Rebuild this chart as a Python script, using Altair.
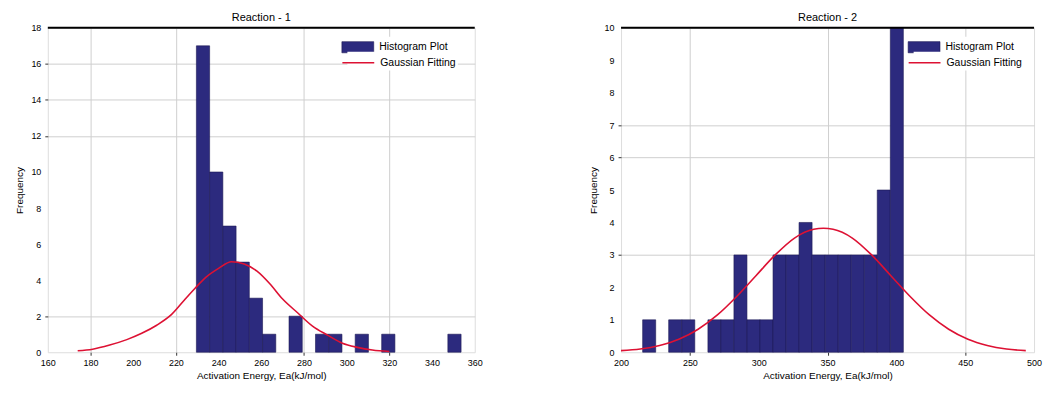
import altair as alt
import pandas as pd

# ---------------- Reaction 1 ----------------
r1_bin_left = [229.6, 235.8, 242.0, 248.2, 254.4, 260.6, 266.8, 273.0, 279.2, 285.4,
               291.6, 297.8, 304.0, 310.2, 316.4, 322.6, 328.8, 335.0, 341.2, 347.4]
r1_bin_width = 6.2
r1_counts = [17, 10, 7, 5, 3, 1, 0, 2, 0, 1, 1, 0, 1, 0, 1, 0, 0, 0, 0, 1]
r1_fit_x = [174, 181, 189, 197, 204, 211, 218, 224, 229, 234, 240, 246, 252, 258,
            264, 270, 277, 284, 291, 298, 305, 312, 320]
r1_fit_y = [0.08, 0.17, 0.40, 0.70, 1.05, 1.50, 2.10, 2.90, 3.55, 4.15, 4.65, 5.02,
            4.90, 4.50, 3.80, 2.95, 2.19, 1.45, 0.95, 0.50, 0.27, 0.12, 0.04]
r1_x_ticks = [160, 180, 200, 220, 240, 260, 280, 300, 320, 340, 360]
r1_y_ticks = [0, 2, 4, 6, 8, 10, 12, 14, 16, 18]
r1_x_grid = [180, 220, 280, 320]
r1_y_grid = [2, 12, 14, 16]

# ---------------- Reaction 2 ----------------
r2_bin_left = [215.7, 225.2, 234.6, 244.1, 253.6, 263.1, 272.5, 282.0, 291.5, 300.9,
               310.4, 319.9, 329.3, 338.8, 348.3, 357.7, 367.2, 376.7, 386.1, 395.6]
r2_bin_width = 9.47
r2_counts = [1, 0, 1, 1, 0, 1, 1, 3, 1, 1, 3, 3, 4, 3, 3, 3, 3, 3, 5, 10]
r2_fit_x = [200, 214, 228, 242, 256, 270, 284, 298, 312, 326, 340, 347, 354, 368,
            382, 396, 410, 424, 438, 452, 466, 480, 494]
r2_fit_y = [0.05, 0.10, 0.21, 0.40, 0.71, 1.15, 1.72, 2.36, 3.00, 3.52, 3.79, 3.82,
            3.79, 3.52, 3.00, 2.36, 1.72, 1.15, 0.71, 0.40, 0.21, 0.10, 0.05]
r2_x_ticks = [200, 250, 300, 350, 400, 450, 500]
r2_y_ticks = [0, 1, 2, 3, 4, 5, 6, 7, 8, 9, 10]
r2_x_grid = [250, 350, 450]
r2_y_grid = [3, 6, 7]

series = ["Histogram Plot", "Gaussian Fitting"]
BAR = "#2c2a7e"
EDGE = "#1c1a55"
RED = "#dd1133"
FONT = "Liberation Sans"


def cond(values, on, off):
    test = "indexof([" + ",".join(str(v) for v in values) + "], datum.value) >= 0"
    return {"condition": {"test": test, "value": on}, "value": off}


def panel(title, bin_left, bin_w, counts, fx, fy, xt, yt, xg, yg, w, h, leg_dx):
    bars = pd.DataFrame({"lo": bin_left,
                         "hi": [b + bin_w for b in bin_left],
                         "n": counts})
    bars = bars[bars["n"] > 0].copy()
    bars["base"] = 0
    bars["series"] = series[0]
    fit = pd.DataFrame({"x": fx, "y": fy})
    fit["series"] = series[1]

    xscale = alt.Scale(domain=[xt[0], xt[-1]], nice=False, zero=False, padding=0)
    yscale = alt.Scale(domain=[yt[0], yt[-1]], nice=False, padding=0)
    common = dict(domain=False, gridColor="#cfcfcf", tickColor="#333", tickSize=3,
                  labelFontSize=9, titleFontSize=10, labelFont=FONT, titleFont=FONT,
                  titleFontWeight="normal", labelColor="black", titleColor="black",
                  format="d", labelOverlap=False, labelFlush=False)
    xaxis = alt.Axis(title="Activation Energy, Ea(kJ/mol)", values=xt,
                     gridOpacity=cond(xg, 1, 0), tickOpacity=cond(xg, 1, 0),
                     labelPadding=3, titlePadding=3, **common)
    yaxis = alt.Axis(title="Frequency", values=yt,
                     gridOpacity=cond(yg, 1, 0), tickOpacity=cond(yg, 1, 0),
                     labelPadding=4, titlePadding=6, **common)
    lx = w - leg_dx
    leg_common = dict(title=None, orient="none", legendX=lx, fillColor="white",
                      padding=2, labelFontSize=10.5, labelFont=FONT, labelColor="black",
                      symbolSize=256, labelOffset=13)
    fill_leg = alt.Legend(legendY=9, symbolType="M-2,-0.7H2V0.7H-2Z",
                          symbolStrokeColor=EDGE, symbolStrokeWidth=0.6,
                          symbolOpacity=1, **leg_common)
    stroke_leg = alt.Legend(legendY=24, symbolType="M-2,0H2",
                            symbolStrokeWidth=1.5, symbolOpacity=1, **leg_common)

    bar = alt.Chart(bars).mark_bar(stroke=EDGE, strokeWidth=0.6, opacity=1,
                                   orient="vertical").encode(
        x=alt.X("lo:Q", scale=xscale, axis=xaxis),
        x2="hi:Q",
        y=alt.Y("n:Q", scale=yscale, axis=yaxis),
        y2="base:Q",
        fill=alt.Fill("series:N", scale=alt.Scale(domain=[series[0]], range=[BAR]),
                      legend=fill_leg),
    )
    line = alt.Chart(fit).mark_line(strokeWidth=1.6, interpolate="monotone").encode(
        x=alt.X("x:Q", scale=xscale, axis=xaxis),
        y=alt.Y("y:Q", scale=yscale, axis=yaxis),
        stroke=alt.Stroke("series:N", scale=alt.Scale(domain=[series[1]], range=[RED]),
                          legend=stroke_leg),
    )
    top = alt.Chart(pd.DataFrame({"y": [yt[-1]]})).mark_rule(
        color="black", strokeWidth=2).encode(y=alt.Y("y:Q", scale=yscale, axis=yaxis))
    return alt.layer(bar, line, top).properties(
        width=w, height=h,
        title=alt.TitleParams(title, fontSize=11, font=FONT, fontWeight="normal",
                              color="black", offset=1),
    )


left = panel("Reaction - 1", r1_bin_left, r1_bin_width, r1_counts, r1_fit_x, r1_fit_y,
             r1_x_ticks, r1_y_ticks, r1_x_grid, r1_y_grid, 429, 326, 128)
right = panel("Reaction - 2", r2_bin_left, r2_bin_width, r2_counts, r2_fit_x, r2_fit_y,
              r2_x_ticks, r2_y_ticks, r2_x_grid, r2_y_grid, 415, 326, 121)

chart = alt.hconcat(left, right, spacing=104).resolve_scale(
    fill="independent", stroke="independent").configure_view(
    stroke=None).configure(background="white",
                           padding={"left": 6, "top": 2, "right": 0, "bottom": 0})

chart.save("out.html", embed_options={"renderer": "svg", "actions": False})
